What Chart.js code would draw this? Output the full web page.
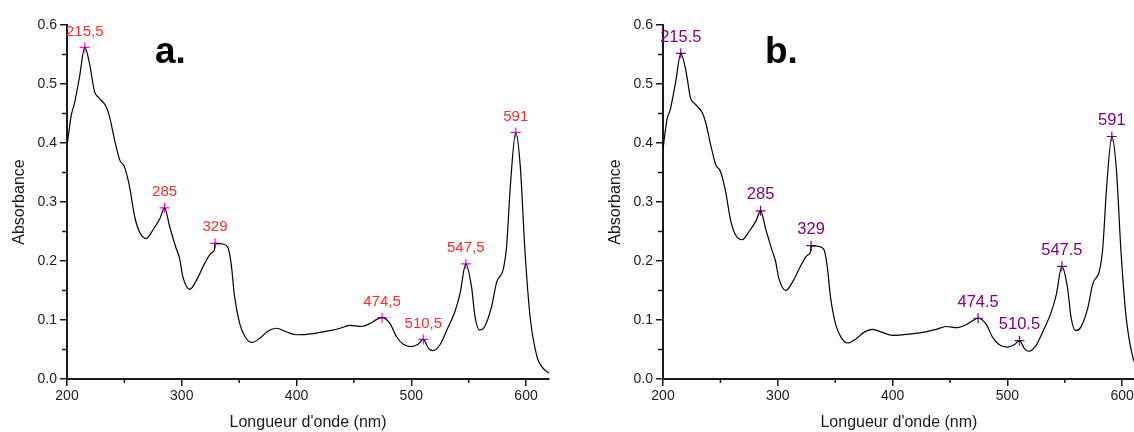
<!DOCTYPE html>
<html>
<head>
<meta charset="utf-8">
<script src="https://cdn.jsdelivr.net/npm/chart.js@4.4.1/dist/chart.umd.min.js"></script>
<style>
    body { margin: 0; background: #fff; overflow: hidden; }
    #wrap { position: relative; width: 1134px; height: 432px; overflow: hidden; }
    .box { position: absolute; top: 0; height: 432px; }
    #boxA { left: 0; width: 567px; }
    #boxB { left: 567px; width: 574px; }
</style>
</head>
<body>
<div id="wrap">
    <div class="box" id="boxA"><canvas id="chartA"></canvas></div>
    <div class="box" id="boxB"><canvas id="chartB"></canvas></div>
</div>
<script>
// spectrum a : wavelength (nm) and absorbance
const waveA = [200, 203.7, 206.5, 210.9, 215.5, 219.6, 224, 227, 234, 237, 241.5, 246, 250, 254.5, 259, 263, 269, 275, 281, 285,
    289.5, 295, 298, 301, 307, 313, 320, 326, 328.5, 329, 335, 340, 343, 346, 350.5, 355, 361, 368, 375, 382.5,
    391, 400, 414.5, 429, 438, 446.5, 456.5, 464, 470, 474.5, 481.5, 487, 493, 500, 506, 510.5, 515, 519, 525, 531,
    538, 542.5, 547.5, 552.5, 555.5, 559.5, 564, 570, 574.5, 580, 583, 586.5, 591, 595, 599, 603.5, 609.5, 614, 620];
const absA = [0.395, 0.447, 0.467, 0.512, 0.562, 0.535, 0.487, 0.478, 0.462, 0.445, 0.405, 0.371, 0.360, 0.326, 0.275, 0.250, 0.238, 0.253, 0.272, 0.290,
    0.258, 0.222, 0.205, 0.173, 0.152, 0.168, 0.196, 0.214, 0.219, 0.230, 0.229, 0.224, 0.196, 0.140, 0.094, 0.072, 0.062, 0.069, 0.081, 0.086,
    0.080, 0.075, 0.077, 0.082, 0.086, 0.091, 0.089, 0.094, 0.101, 0.104, 0.094, 0.072, 0.059, 0.055, 0.059, 0.067, 0.052, 0.048, 0.058, 0.083,
    0.114, 0.145, 0.195, 0.156, 0.106, 0.083, 0.089, 0.123, 0.165, 0.185, 0.224, 0.332, 0.418, 0.360, 0.219, 0.106, 0.038, 0.020, 0.010];

// spectrum b
const waveB = [200, 203.5, 206.5, 211, 215.5, 220, 224, 227, 234, 237, 241.5, 246, 250, 254.5, 259, 263, 269, 275, 281, 285,
    289.5, 295, 298, 301, 307, 313, 320, 326, 328.5, 329, 335, 340, 343, 346, 350.5, 355, 361, 368, 375, 382.5,
    391, 400, 414.5, 429, 438, 446.5, 456.5, 464, 470, 474.5, 481.5, 487, 493, 500, 506, 510.5, 515, 519, 525, 531,
    538, 542.5, 547.5, 552.5, 555.5, 559.5, 564, 570, 574.5, 580, 583, 586.5, 591, 595, 599, 603.5, 609.5, 612];
const absB = [0.390, 0.440, 0.458, 0.503, 0.552, 0.522, 0.476, 0.468, 0.452, 0.436, 0.397, 0.363, 0.352, 0.318, 0.268, 0.245, 0.236, 0.250, 0.268, 0.285,
    0.254, 0.218, 0.200, 0.170, 0.150, 0.165, 0.192, 0.210, 0.215, 0.226, 0.225, 0.220, 0.192, 0.138, 0.092, 0.071, 0.061, 0.068, 0.079, 0.084,
    0.079, 0.074, 0.076, 0.080, 0.084, 0.089, 0.087, 0.092, 0.099, 0.103, 0.093, 0.071, 0.058, 0.054, 0.058, 0.065, 0.051, 0.047, 0.057, 0.081,
    0.112, 0.142, 0.191, 0.153, 0.104, 0.082, 0.088, 0.120, 0.162, 0.182, 0.220, 0.326, 0.411, 0.354, 0.215, 0.104, 0.035, 0.024];

// marked peaks :
const peakWave = [215.5, 285, 329, 474.5, 510.5, 547.5, 591];
const peakAbsA = [0.562, 0.290, 0.230, 0.104, 0.067, 0.195, 0.418];
const peakAbsB = [0.552, 0.285, 0.226, 0.103, 0.065, 0.191, 0.411];
const peakTextA = ["215,5", "285", "329", "474,5", "510,5", "547,5", "591"];
const peakTextB = ["215.5", "285", "329", "474.5", "510.5", "547.5", "591"];

// axis ticks :
const xTicks = [200, 300, 400, 500, 600];
const xMinor = [250, 350, 450, 550];
const yTicks = [0, 0.1, 0.2, 0.3, 0.4, 0.5, 0.6];
const yMinor = [0.05, 0.15, 0.25, 0.35, 0.45, 0.55];

const FONT = "'Liberation Sans', Arial, sans-serif";
const INK = '#1a1a1a';

function toPoints(xs, ys) {
    return xs.map((x, i) => ({ x: x, y: ys[i] }));
}

// minor ticks + peak labels + panel letter
const decoPlugin = {
    id: 'deco',
    afterDraw(chart) {
        const opt = chart.options.plugins.deco;
        const ctx = chart.ctx;
        const xs = chart.scales.x;
        const ys = chart.scales.y;
        ctx.save();
        ctx.strokeStyle = INK;
        ctx.lineWidth = 1.5;
        ctx.beginPath();
        xMinor.forEach(v => {
            const px = xs.getPixelForValue(v);
            ctx.moveTo(px, xs.top);
            ctx.lineTo(px, xs.top + 4);
        });
        yMinor.forEach(v => {
            const py = ys.getPixelForValue(v);
            ctx.moveTo(ys.right, py);
            ctx.lineTo(ys.right - 5, py);
        });
        ctx.stroke();

        ctx.fillStyle = opt.color;
        ctx.font = opt.size + 'px ' + FONT;
        ctx.textAlign = 'center';
        ctx.textBaseline = 'middle';
        opt.texts.forEach((t, i) => {
            const px = xs.getPixelForValue(peakWave[i]);
            const py = ys.getPixelForValue(opt.values[i]);
            ctx.fillText(t, px, py - 16);
        });

        ctx.fillStyle = '#000';
        ctx.font = 'bold 37px ' + FONT;
        ctx.textAlign = 'left';
        ctx.textBaseline = 'alphabetic';
        ctx.fillText(opt.letter, chart.chartArea.left + opt.letterShift, 63);
        ctx.restore();
    }
};

function makeChart(id, cfg) {
    const el = document.getElementById(id).getContext('2d');
    return new Chart(el, {
        type: 'line',
        data: {
            datasets: [
                {
                    data: toPoints(cfg.waves, cfg.abs),
                    borderColor: '#000',
                    borderWidth: 1.2,
                    pointRadius: 0,
                    cubicInterpolationMode: 'monotone',
                    fill: false
                },
                {
                    data: toPoints(peakWave, cfg.peaks),
                    showLine: false,
                    pointStyle: 'cross',
                    pointRadius: 5,
                    pointBorderColor: cfg.markColor,
                    pointBorderWidth: 1.2
                }
            ]
        },
        options: {
            responsive: true,
            maintainAspectRatio: false,
            animation: false,
            layout: { padding: { left: 0, right: cfg.rightPad, top: 25, bottom: 0 } },
            plugins: {
                legend: { display: false },
                tooltip: { enabled: false },
                deco: { color: cfg.labelColor, size: cfg.labelSize, texts: cfg.texts, values: cfg.peaks, letter: cfg.letter, letterShift: cfg.letterShift }
            },
            scales: {
                x: {
                    type: 'linear',
                    min: 200,
                    max: cfg.xMax,
                    afterFit: s => { s.height = 53; },
                    afterBuildTicks: s => { s.ticks = xTicks.map(v => ({ value: v })); },
                    border: { display: true, color: INK, width: 2 },
                    grid: { drawOnChartArea: false, drawTicks: true, tickLength: 7, color: INK, lineWidth: 1.5 },
                    ticks: { color: INK, font: { family: FONT, size: 14 }, padding: 2, maxRotation: 0 },
                    title: { display: true, text: "Longueur d'onde (nm)", color: INK, font: { family: FONT, size: 16 }, padding: { top: 0, bottom: 0 } }
                },
                y: {
                    min: 0,
                    max: 0.6,
                    afterFit: s => { s.width = cfg.yWidth; },
                    afterBuildTicks: s => { s.ticks = yTicks.map(v => ({ value: v })); },
                    border: { display: true, color: INK, width: 2 },
                    grid: { drawOnChartArea: false, drawTicks: true, tickLength: 7, color: INK, lineWidth: 1.5 },
                    ticks: { color: INK, font: { family: FONT, size: 14 }, padding: 3, callback: v => v.toFixed(1) },
                    title: { display: true, text: 'Absorbance', color: INK, font: { family: FONT, size: 16 }, padding: { top: cfg.titlePad, bottom: 0 } }
                }
            }
        },
        plugins: [decoPlugin]
    });
}

makeChart('chartA', {
    waves: waveA, abs: absA, peaks: peakAbsA, texts: peakTextA,
    labelColor: '#ff2a2a', labelSize: 15, markColor: '#ff00ff',
    letter: 'a.', letterShift: 88, xMax: 620, rightPad: 18, yWidth: 67, titlePad: 10
});
makeChart('chartB', {
    waves: waveB, abs: absB, peaks: peakAbsB, texts: peakTextB,
    labelColor: '#800080', labelSize: 16.5, markColor: '#800080',
    letter: 'b.', letterShift: 102, xMax: 611, rightPad: 0, yWidth: 96, titlePad: 39
});
</script>
</body>
</html>
